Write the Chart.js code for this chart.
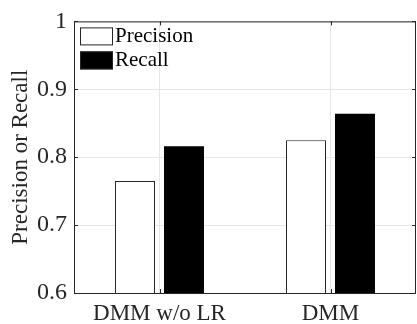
<!DOCTYPE html>
<html>
<head>
<meta charset="utf-8">
<script src="https://cdn.jsdelivr.net/npm/chart.js@4/dist/chart.umd.min.js"></script>
<style>
  html, body { margin: 0; padding: 0; background: #fff; }
  #wrap { width: 417px; height: 324px; }
</style>
</head>
<body>
<div id="wrap"><canvas id="c" width="417" height="324"></canvas></div>
<script>
const categories = ['DMM w/o LR', 'DMM'];
const precision = [0.765, 0.825];
const recall = [0.816, 0.864];
const yTickLabels = ['0.6', '0.7', '0.8', '0.9', '1'];

const FONT = "'Liberation Serif', 'Times New Roman', serif";
const INK = '#262626';

// MATLAB-style box: full frame with ticks pointing inward, legend inside the axes
const boxPlugin = {
  id: 'box',
  afterDatasetsDraw(chart) {
    const { ctx, chartArea: a, scales: { x, y } } = chart;
    ctx.save();
    ctx.strokeStyle = INK; ctx.lineWidth = 1;
    ctx.strokeRect(a.left + 0.5, a.top + 0.5, a.right - a.left - 1, a.bottom - a.top);
    ctx.beginPath();
    y.ticks.forEach((t) => {
      const py = Math.round(y.getPixelForValue(t.value)) + 0.5;
      ctx.moveTo(a.left, py); ctx.lineTo(a.left + 4, py);
      ctx.moveTo(a.right, py); ctx.lineTo(a.right - 4, py);
    });
    x.ticks.forEach((t, i) => {
      const px = Math.round(x.getPixelForTick(i)) + 0.5;
      ctx.moveTo(px, a.bottom); ctx.lineTo(px, a.bottom - 4);
      ctx.moveTo(px, a.top); ctx.lineTo(px, a.top + 4);
    });
    ctx.stroke();

    // legend
    ctx.font = '21px ' + FONT;
    ctx.textBaseline = 'middle';
    chart.data.datasets.forEach((d, i) => {
      const bx = a.left + 6, by = a.top + 6 + i * 24;
      ctx.fillStyle = d.backgroundColor;
      ctx.fillRect(bx, by, 33, 18);
      ctx.strokeStyle = INK;
      ctx.strokeRect(bx + 0.5, by + 0.5, 32, 17);
      ctx.fillStyle = '#000';
      ctx.fillText(d.label, bx + 35, by + 9);
    });
    ctx.restore();
  },
};

new Chart(document.getElementById('c'), {
  type: 'bar',
  data: {
    labels: categories,
    datasets: [
      { label: 'Precision', data: precision, backgroundColor: '#ffffff', borderColor: INK, borderWidth: 1,
        categoryPercentage: 0.573, barPercentage: 0.816 },
      { label: 'Recall', data: recall, backgroundColor: '#000000', borderColor: '#000000', borderWidth: 0,
        categoryPercentage: 0.573, barPercentage: 0.816 },
    ],
  },
  options: {
    responsive: false, animation: false,
    layout: { padding: { top: 16, right: 1, left: 0, bottom: 0 } },
    plugins: { legend: { display: false }, tooltip: { enabled: false } },
    scales: {
      x: {
        grid: { offset: false, color: '#e6e6e6', tickLength: 0, drawTicks: false },
        border: { display: false },
        ticks: { font: { family: FONT, size: 23 }, color: INK, padding: 7, maxRotation: 0 },
        afterFit(s) { s.height = 31; },
      },
      y: {
        min: 0.6, max: 1,
        grid: { color: '#e6e6e6', drawTicks: false, tickLength: 0 },
        border: { display: false },
        ticks: { stepSize: 0.1, font: { family: FONT, size: 24 }, color: INK, padding: 7,
          callback: (v, i) => yTickLabels[i] },
        title: { display: true, text: 'Precision or Recall', font: { family: FONT, size: 23 }, color: INK,
          padding: { top: 7, bottom: 0 } },
        afterFit(s) { s.width = 74; },
      },
    },
  },
  plugins: [boxPlugin],
});
</script>
</body>
</html>
